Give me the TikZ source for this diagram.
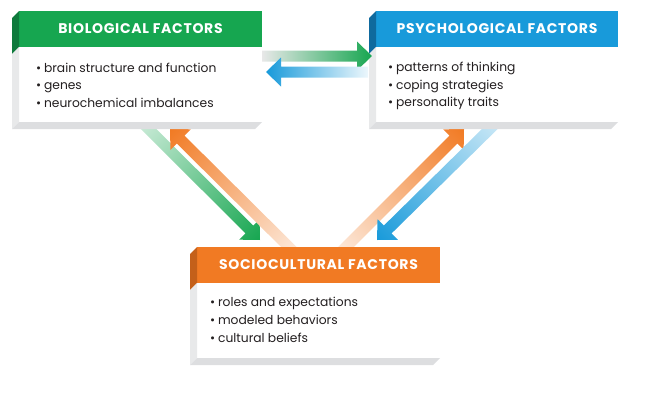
\documentclass[tikz,border=0pt]{standalone}
\usepackage{fontspec}
\setmainfont{Poppins}
\definecolor{bgreen}{RGB}{22,166,80}
\definecolor{bgreendk}{RGB}{14,122,60}
\definecolor{bblue}{RGB}{24,154,218}
\definecolor{bbluedk}{RGB}{15,106,158}
\definecolor{borange}{RGB}{241,122,35}
\definecolor{borangedk}{RGB}{196,96,26}
\definecolor{sidegray}{RGB}{232,233,234}
\definecolor{botgray}{RGB}{221,222,224}
\definecolor{txt}{RGB}{35,31,32}
\newcommand\gradarrow[5]{%
  \path (#1); \pgfgetlastxy{\gxa}{\gya}%
  \path (#2); \pgfgetlastxy{\gxb}{\gyb}%
  \pgfmathsetmacro\gang{atan2(\gyb-\gya,\gxb-\gxa)}%
  \pgfmathsetmacro\glen{veclen(\gxb-\gxa,\gyb-\gya)}%
  \begin{scope}[transform canvas={shift={(\gxa,\gya)},rotate=\gang}]
    \shade[left color=#3,middle color=#4,right color=#5]
      (0pt,-5.5pt) -- (\glen pt-15pt,-5.5pt) -- (\glen pt-15pt,-14.5pt) -- (\glen pt,0pt)
      -- (\glen pt-15pt,14.5pt) -- (\glen pt-15pt,5.5pt) -- (0pt,5.5pt) -- cycle;
  \end{scope}}
\newcommand\extrude[3]{%
  \fill[#2] (#1.north west) -- ++(-7,7) -- ++(0,36) -- ++(7,-7) -- cycle;
  \fill[sidegray] (#1h.south west) -- ++(-7,7) -- ++(0,75) -- ++(7,-7) -- cycle;
  \fill[botgray] (#1.south west) -- ++(-7,7) -- ++(#3,0) -- (#1.south east) -- cycle;}
\tikzset{
  face/.style={fill=white, draw=none, minimum height=111pt, anchor=north west, inner sep=0pt, outer sep=0pt},
  headbar/.style={draw=none, minimum height=36pt, anchor=north west, inner sep=0pt, outer sep=0pt},
  title/.style={anchor=base, inner sep=0pt, text=white, font=\fontsize{14}{16}\selectfont\bfseries\addfontfeature{LetterSpace=5}},
  item/.style={anchor=base west, inner sep=0pt, text=txt, font=\fontsize{12.3}{15}\selectfont},
}
\begin{document}
\begin{tikzpicture}[x=1pt,y=-1pt]
\useasboundingbox (0,0) rectangle (653,394);
% diagonal arrow end points
\coordinate (gdT) at (137.5,118); \coordinate (gdH) at (260,240);
\coordinate (odLT) at (301,259); \coordinate (odLH) at (170,129);
\coordinate (odRT) at (334,259); \coordinate (odRH) at (464,129);
\coordinate (bdT) at (501,118); \coordinate (bdH) at (377,240);
\gradarrow{gdT}{gdH}{bgreen!20}{bgreen!70}{bgreen}
\gradarrow{odLT}{odLH}{borange!12}{borange!70}{borange}
\gradarrow{odRT}{odRH}{borange!12}{borange!70}{borange}
\gradarrow{bdT}{bdH}{bblue!20}{bblue!70}{bblue}
% biological
\node[face, minimum width=243pt] (bio) at (19,11) {};
\node[headbar, minimum width=243pt, fill=bgreen] (bioh) at (bio.north west) {};
\extrude{bio}{bgreendk}{243}
\node[title] (biot) at (140.5,33) {BIOLOGICAL FACTORS};
\node[item] (bio1) at (36,72) {•\hspace{2.8pt}brain structure and function};
\node[item] (bio2) at (36,89.5) {•\hspace{2.8pt}genes};
\node[item] (bio3) at (36,107) {•\hspace{2.8pt}neurochemical imbalances};
% psychological
\node[face, minimum width=242pt] (psy) at (376,11) {};
\node[headbar, minimum width=242pt, fill=bblue] (psyh) at (psy.north west) {};
\extrude{psy}{bbluedk}{242}
\node[title] (psyt) at (497,33) {PSYCHOLOGICAL FACTORS};
\node[item] (psy1) at (388,71.5) {•\hspace{2.8pt}patterns of thinking};
\node[item] (psy2) at (388,89) {•\hspace{2.8pt}coping strategies};
\node[item] (psy3) at (388,106.5) {•\hspace{2.8pt}personality traits};
% sociocultural
\node[face, minimum width=243pt] (soc) at (197,247) {};
\node[headbar, minimum width=243pt, fill=borange] (soch) at (soc.north west) {};
\extrude{soc}{borangedk}{243}
\node[title] (soct) at (318.5,269) {SOCIOCULTURAL FACTORS};
\node[item] (soc1) at (210,306) {•\hspace{2.8pt}roles and expectations};
\node[item] (soc2) at (210,324) {•\hspace{2.8pt}modeled behaviors};
\node[item] (soc3) at (210,342) {•\hspace{2.8pt}cultural beliefs};
% horizontal arrows
\coordinate (ghT) at (bio.east |- 0,56); \coordinate (ghH) at (372,56);
\coordinate (bhT) at (368,72); \coordinate (bhH) at (266,72);
\gradarrow{ghT}{ghH}{gray!18}{bgreen!55}{bgreen}
\gradarrow{bhT}{bhH}{bblue!8}{bblue!60}{bblue}
\end{tikzpicture}
\end{document}
